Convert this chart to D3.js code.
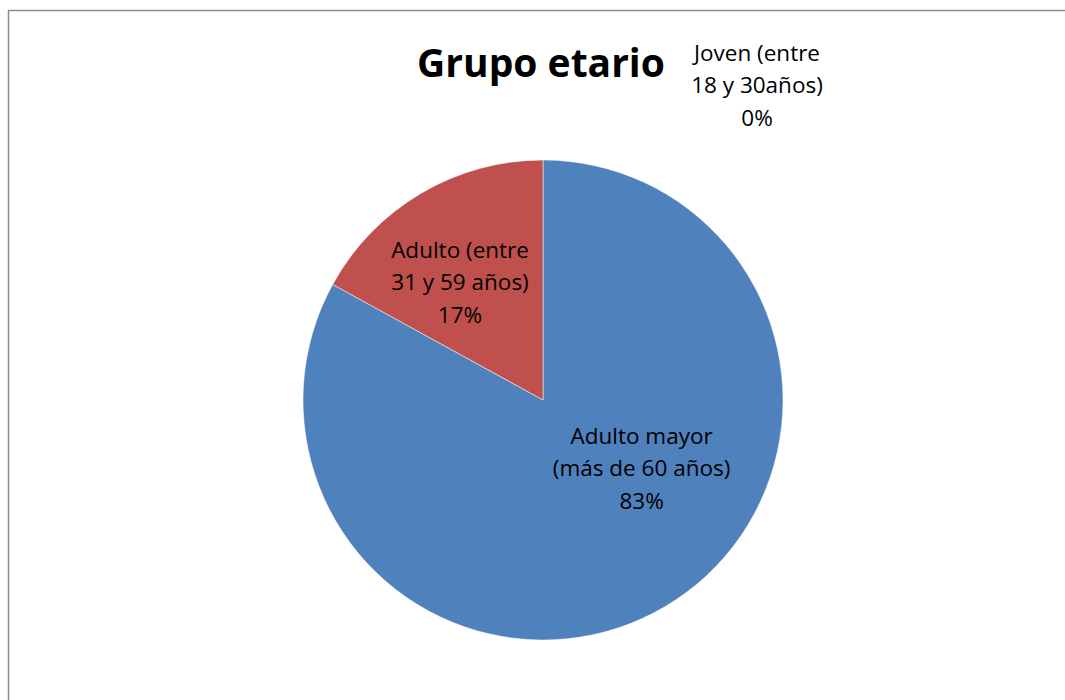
<!DOCTYPE html>
<html lang="es">
<head>
<meta charset="UTF-8">
<title>Grupo etario</title>
<script src="https://d3js.org/d3.v7.min.js"></script>
<style>
  body { margin: 0; background: #fff; }
  svg { display: block; font-family: "Open Sans", Lato, sans-serif; }
</style>
</head>
<body>
<div id="chart"></div>
<script>
// data
const categories = ["Joven (entre 18 y 30años)", "Adulto mayor (más de 60 años)", "Adulto (entre 31 y 59 años)"];
const values = [0, 83, 17];
const labelLines = [
  ["Joven (entre", "18 y 30años)", "0%"],
  ["Adulto mayor", "(más de 60 años)", "83%"],
  ["Adulto (entre", "31 y 59 años)", "17%"]
];
const colors = ["#9BBB59", "#4F81BD", "#C0504D"];

const width = 1065, height = 700;
const cx = 543, cy = 400, radius = 240;

const svg = d3.select("#chart").append("svg")
    .attr("width", width)
    .attr("height", height);

// chart frame
svg.append("rect")
    .attr("x", 8.5).attr("y", 10.5)
    .attr("width", width).attr("height", height)
    .attr("fill", "#fff")
    .attr("stroke", "#8c8c8c")
    .attr("stroke-width", 1.5);

const g = svg.append("g").attr("transform", `translate(${cx},${cy})`);

const pie = d3.pie().sort(null).value(d => d)(values);
const arc = d3.arc().innerRadius(0).outerRadius(radius);

g.selectAll("path")
  .data(pie)
  .join("path")
    .attr("d", arc)
    .attr("fill", (d, i) => colors[i])
    .attr("stroke", "#fff")
    .attr("stroke-width", 0.5);

// label placement: radius factor and angle shift for each slice (Excel-like)
const labelPos = [
  {r: 1.25, shift: 0},
  {r: 0.5, shift: -0.43},
  {r: 0.6, shift: -0.08}
];

pie.forEach((d, i) => {
  const a = (d.startAngle + d.endAngle) / 2 + labelPos[i].shift;
  let x = Math.sin(a) * radius * labelPos[i].r;
  let y = -Math.cos(a) * radius * labelPos[i].r;
  if (i === 0) { x = 214; y = -315; }
  const t = g.append("text")
      .attr("x", x)
      .attr("y", y)
      .attr("text-anchor", "middle")
      .attr("font-size", 22.5)
      .attr("fill", "#000");
  labelLines[i].forEach((line, j) => {
    t.append("tspan")
      .attr("x", x)
      .attr("y", y + (j - 1) * 32.5 + 8)
      .text(line);
  });
});

svg.append("text")
    .attr("x", 541)
    .attr("y", 77)
    .attr("text-anchor", "middle")
    .attr("font-size", 39)
    .attr("font-weight", "bold")
    .text("Grupo etario");
</script>
</body>
</html>
